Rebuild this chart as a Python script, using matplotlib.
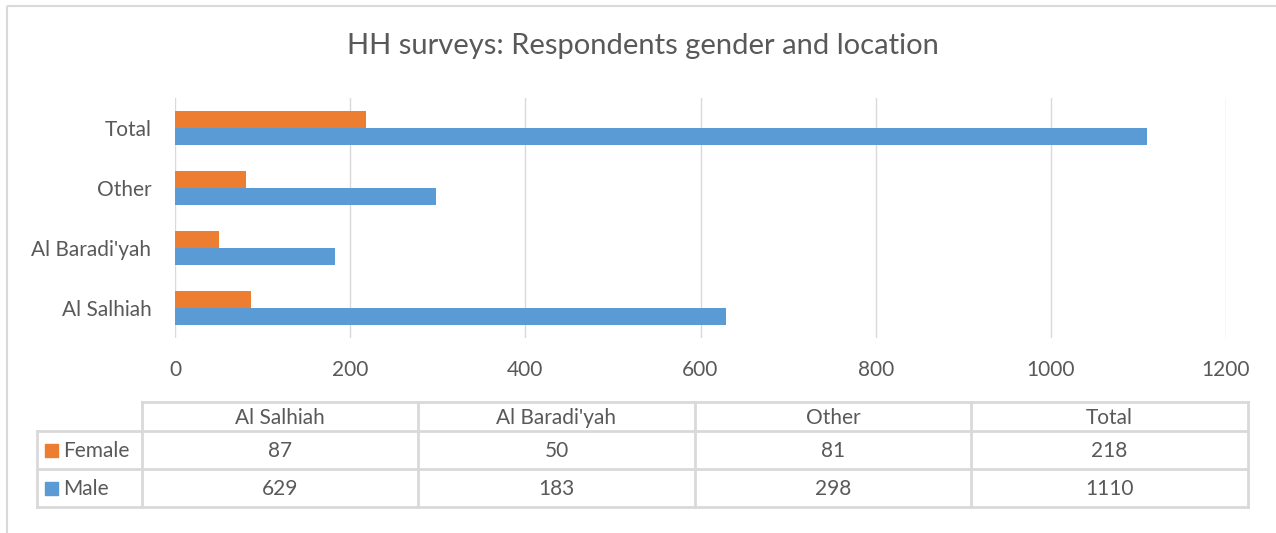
import matplotlib
matplotlib.use("Agg")
import matplotlib.pyplot as plt
from matplotlib.patches import Rectangle

# data
locations = ["Al Salhiah", "Al Baradi'yah", "Other", "Total"]
female = [87, 50, 81, 218]
male = [629, 183, 298, 1110]
series = ["Female", "Male"]
xticks = [0, 200, 400, 600, 800, 1000, 1200]

ORANGE = "#ED7D31"
BLUE = "#5B9BD5"
GRID = "#D9D9D9"
TXT = "#595959"
FONT = ["Lato", "DejaVu Sans"]
FS = 15

plt.rcParams["font.family"] = FONT
W, H = 1276, 533
fig = plt.figure(figsize=(W / 100, H / 100), dpi=100)
fig.patch.set_facecolor("white")

# bar chart area
ax = fig.add_axes([175 / W, 1 - 338 / H, (1226 - 175) / W, 240 / H])
ypos = list(range(len(locations)))
bh = 0.28
ax.barh([y + bh / 2 for y in ypos], female, height=bh, color=ORANGE, zorder=3)
ax.barh([y - bh / 2 for y in ypos], male, height=bh, color=BLUE, zorder=3)
ax.set_xlim(0, 1200)
ax.set_ylim(-0.5, len(locations) - 0.5)
ax.set_xticks(xticks)
ax.set_yticks(ypos)
ax.set_yticklabels(locations)
ax.grid(axis="x", color=GRID, lw=1, zorder=0)
for s in ax.spines.values():
    s.set_visible(False)
ax.tick_params(axis="x", length=0, pad=16, labelsize=FS, labelcolor=TXT)
ax.tick_params(axis="y", length=0, pad=17, labelsize=FS, labelcolor=TXT)

fig.text(643 / W, 1 - 46 / H, "HH surveys: Respondents gender and location",
         ha="center", va="center", fontsize=21, color=TXT)

# overlay in pixel coords for frame + data table
ov = fig.add_axes([0, 0, 1, 1], zorder=5)
ov.set_xlim(0, W)
ov.set_ylim(H, 0)
ov.axis("off")
ov.patch.set_alpha(0)

lk = dict(color=GRID, lw=1.5, solid_capstyle="butt")
ov.plot([7, 7], [6, H], **lk)
ov.plot([7, W], [6, 6], **lk)

col_edges = [142, 418, 695, 971, 1248]
row_edges = [402, 431, 469, 507]
lk2 = dict(color=GRID, lw=2, solid_capstyle="projecting")
ov.plot([col_edges[0], col_edges[-1]], [row_edges[0]] * 2, **lk2)
for y in row_edges[1:]:
    ov.plot([37, col_edges[-1]], [y, y], **lk2)
ov.plot([37, 37], [row_edges[1], row_edges[-1]], **lk2)
for x in col_edges:
    ov.plot([x, x], [row_edges[0], row_edges[-1]], **lk2)

for i, name in enumerate(locations):
    cx = (col_edges[i] + col_edges[i + 1]) / 2
    ov.text(cx, (row_edges[0] + row_edges[1]) / 2 + 1, name,
            ha="center", va="center", fontsize=FS, color=TXT)
    for r, vals in enumerate([female, male]):
        ov.text(cx, (row_edges[r + 1] + row_edges[r + 2]) / 2 + 1, str(vals[i]),
                ha="center", va="center", fontsize=FS, color=TXT)

for r, (name, col) in enumerate(zip(series, [ORANGE, BLUE])):
    cy = (row_edges[r + 1] + row_edges[r + 2]) / 2
    ov.add_patch(Rectangle((45, cy - 6), 13, 13, color=col))
    ov.text(63, cy + 1, name, ha="left", va="center", fontsize=FS, color=TXT)

fig.savefig("out.png", dpi=100, facecolor="white")
